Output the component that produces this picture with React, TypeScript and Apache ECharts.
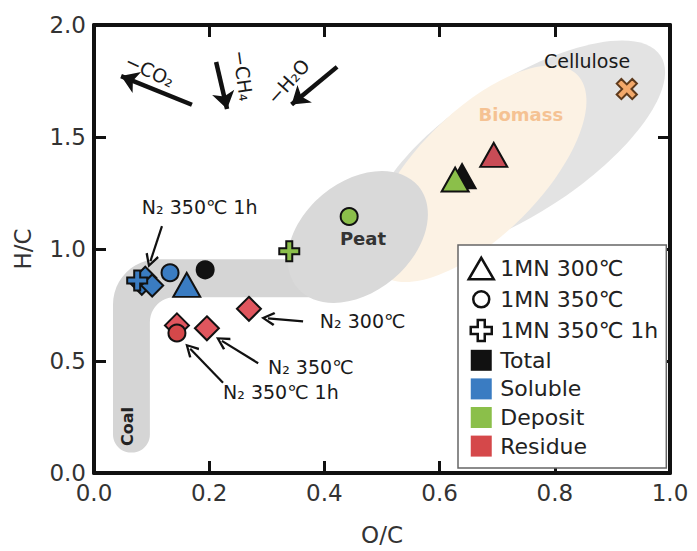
import React, { useEffect, useRef } from "react";
import * as echarts from "echarts";

const FONT = "DejaVu Sans";

// axis ticks
const xTickLabels = ["0.0", "0.2", "0.4", "0.6", "0.8", "1.0"];
const yTickLabels = ["0.0", "0.5", "1.0", "1.5", "2.0"];

// legend entries
const legendShapes = ["1MN 300℃", "1MN 350℃", "1MN 350℃ 1h"];
const legendColors = ["Total", "Soluble", "Deposit", "Residue"];

// data points [O/C, H/C]
const totalTriangle = [[0.639, 1.325]];
const totalCircle = [[0.193, 0.907]];
const solubleTriangle = [[0.161, 0.84]];
const solubleCircle = [[0.132, 0.894]];
const solubleCross = [[0.075, 0.859]];
const depositTriangle = [[0.627, 1.31]];
const depositCircle = [[0.443, 1.145]];
const depositCross = [[0.339, 0.99]];
const residueTriangle = [[0.694, 1.42]];
const residueCircle = [[0.144, 0.625]];
const n2Soluble = [[0.083, 0.845], [0.089, 0.872], [0.101, 0.837]];
const n2Residue = [[0.269, 0.733], [0.196, 0.646], [0.144, 0.659]];
const celluloseRef = [[0.925, 1.714]];

// regions (data coordinates)
const cellulosePos = [0.736, 1.449];
const biomassPos = [0.667, 1.336];
const peatPos = [0.458, 1.054];
const coalLeft = 0.033, coalRight = 0.097, coalBottom = 0.091, coalTop = 0.954, coalInner = 0.785, coalEnd = 0.44;

// arrows [from, to]
const removalArrows = [
  [[0.17, 1.644], [0.047, 1.772]],
  [[0.212, 1.835], [0.231, 1.625]],
  [[0.422, 1.813], [0.343, 1.645]],
];
const removalLabels = ["−CO₂", "−CH₄", "−H₂O"];
const removalLabelPos = [[0.097, 1.796], [0.259, 1.774], [0.337, 1.748]];
const removalLabelRot = [-25, -82, 48];

const n2Arrows = [
  [[0.118, 1.102], [0.098, 0.946]],
  [[0.363, 0.677], [0.302, 0.69]],
  [[0.285, 0.49], [0.222, 0.59]],
  [[0.224, 0.403], [0.167, 0.555]],
];
const n2Labels = ["N₂ 350℃ 1h", "N₂ 300℃", "N₂ 350℃", "N₂ 350℃ 1h"];
const n2LabelPos = [[0.083, 1.189], [0.392, 0.677], [0.302, 0.473], [0.224, 0.36]];

const regionLabels = ["Cellulose", "Biomass", "Peat", "Coal"];
const regionLabelPos = [[0.856, 1.839], [0.741, 1.601], [0.467, 1.046], [0.059, 0.208]];

const BLUE = "#3a7cc2";
const GREEN = "#8bbf4a";
const RED = "#d5484a";
const RED_D = "#e0565e";
const BLACK = "#111";

const CROSS = "path://M7,0 H13 V7 H20 V13 H13 V20 H7 V13 H0 V7 H7 Z";
const ICON_TRI = "path://M0,0 M28,24 M1.5,23 L14,1.5 L26.5,23 Z";
const ICON_CIRC = "path://M0,0 M28,24 M6,12 A8,8 0 1,0 22,12 A8,8 0 1,0 6,12 Z";
const ICON_CROSS = "path://M0,0 M28,24 M10.5,1.5 H17.5 V8.5 H24.5 V15.5 H17.5 V22.5 H10.5 V15.5 H3.5 V8.5 H10.5 Z";
const ICON_SQ = "path://M0,0 M28,24 M3.5,1.5 H24.5 V22.5 H3.5 Z";

function pts(symbol: any, size: any, color: string, data: number[][], name: string, z = 5) {
  return {
    type: "scatter",
    name,
    data,
    symbol,
    symbolSize: size,
    z,
    itemStyle: { color, borderColor: BLACK, borderWidth: 2, opacity: 1 },
  };
}

function renderRegion(params: any, api: any) {
  const i = params.dataIndex;
  const ell = (c: number[], rx: number, ry: number, rot: number, fill: string) => {
    const p = api.coord(c);
    return {
      type: "ellipse",
      x: p[0],
      y: p[1],
      rotation: (rot * Math.PI) / 180,
      shape: { cx: 0, cy: 0, rx, ry },
      style: { fill },
    };
  };
  if (i === 0) return ell(cellulosePos, 170, 66, 33, "#e3e3e3");
  if (i === 1) return ell(biomassPos, 140, 62, 45, "#fcf2e4");
  if (i === 3) return ell(peatPos, 79, 55, 40, "#d9d9d9");
  // coal L-shaped band
  const L = api.coord([coalLeft, 0])[0];
  const R = api.coord([coalRight, 0])[0];
  const E = api.coord([coalEnd, 0])[0];
  const B = api.coord([0, coalBottom])[1];
  const T = api.coord([0, coalTop])[1];
  const H = api.coord([0, coalInner])[1];
  const rb = 18, ro = 45, ri = 25;
  const points: number[][] = [];
  const arc = (cx: number, cy: number, r: number, a0: number, a1: number) => {
    const n = 12;
    for (let k = 0; k <= n; k++) {
      const a = ((a0 + ((a1 - a0) * k) / n) * Math.PI) / 180;
      points.push([cx + r * Math.cos(a), cy + r * Math.sin(a)]);
    }
  };
  arc(L + rb, B - rb, rb, 90, 180);
  arc(L + ro, T + ro, ro, 180, 270);
  points.push([E, T]);
  points.push([E, H]);
  arc(R + ri, H + ri, ri, 270, 180);
  arc(R - rb, B - rb, rb, 0, 90);
  return { type: "polygon", shape: { points }, style: { fill: "#d5d5d5" } };
}

function axisCommon(showLabel: boolean) {
  return {
    type: "value",
    axisLine: { show: true, onZero: false, lineStyle: { color: BLACK, width: 4 } },
    axisTick: { show: true, inside: true, length: 12, lineStyle: { color: BLACK, width: 3 } },
    splitLine: { show: false },
    axisLabel: {
      show: showLabel,
      fontFamily: FONT,
      fontSize: 23,
      color: "#333",
      margin: 8,
      formatter: (v: number) => v.toFixed(1),
    },
  };
}

export default function App() {
  const ref = useRef<HTMLDivElement>(null);
  useEffect(() => {
    const chart = echarts.init(ref.current!, null, { renderer: "svg" });
    const xLab = (v: number) => xTickLabels[Math.round(v / 0.2)] ?? v.toFixed(1);
    const yLab = (v: number) => yTickLabels[Math.round(v / 0.5)] ?? v.toFixed(1);

    const annotData: any[] = [];
    n2Labels.forEach((t, i) =>
      annotData.push({
        value: n2LabelPos[i],
        label: { formatter: t, position: "right", distance: 0, fontSize: 19, color: "#1a1a1a" },
      })
    );
    removalLabels.forEach((t, i) =>
      annotData.push({
        value: removalLabelPos[i],
        label: { formatter: t, position: "inside", rotate: removalLabelRot[i], fontSize: 19, color: "#1a1a1a" },
      })
    );
    const regionStyles = [
      { fontSize: 19, color: "#1a1a1a", fontWeight: "normal", rotate: 0 },
      { fontSize: 18, color: "#f5c293", fontWeight: "bold", rotate: 0 },
      { fontSize: 18, color: "#333", fontWeight: "bold", rotate: 0 },
      { fontSize: 16, color: "#222", fontWeight: "bold", rotate: 90 },
    ];
    regionLabels.forEach((t, i) =>
      annotData.push({
        value: regionLabelPos[i],
        label: { formatter: t, position: "inside", ...regionStyles[i] },
      })
    );

    const shapeStyle = { color: "#fff", borderColor: BLACK, borderWidth: 2.5, opacity: 1 };
    const colorMap: Record<string, string> = { Total: BLACK, Soluble: BLUE, Deposit: GREEN, Residue: RED };
    const shapeIcons = [ICON_TRI, ICON_CIRC, ICON_CROSS];

    chart.setOption({
      animation: false,
      grid: { left: 94, right: 27, top: 25, bottom: 65, containLabel: false },
      xAxis: [
        {
          ...axisCommon(true),
          min: 0, max: 1, interval: 0.2, position: "bottom",
          axisLabel: { ...axisCommon(true).axisLabel, formatter: xLab },
          name: "O/C", nameLocation: "middle", nameGap: 50,
          nameTextStyle: { fontFamily: FONT, fontSize: 23, color: "#333" },
        },
        { ...axisCommon(false), min: 0, max: 1, interval: 0.2, position: "top" },
      ],
      yAxis: [
        {
          ...axisCommon(true),
          min: 0, max: 2, interval: 0.5, position: "left",
          axisLabel: { ...axisCommon(true).axisLabel, formatter: yLab },
          name: "H/C", nameLocation: "middle", nameGap: 60,
          nameTextStyle: { fontFamily: FONT, fontSize: 23, color: "#333" },
        },
        { ...axisCommon(false), min: 0, max: 2, interval: 0.5, position: "right" },
      ],
      legend: {
        orient: "vertical",
        left: 458,
        top: 245,
        itemWidth: 28,
        itemHeight: 24,
        itemGap: 4.6,
        padding: [10, 8, 10, 8],
        backgroundColor: "#fff",
        borderColor: "#666",
        borderWidth: 1.5,
        selectedMode: false,
        textStyle: { fontFamily: FONT, fontSize: 22, color: "#222", width: 156, lineHeight: 24 },
        data: [
          ...legendShapes.map((n, i) => ({ name: n, icon: shapeIcons[i], itemStyle: shapeStyle })),
          ...legendColors.map((n) => ({
            name: n, icon: ICON_SQ, itemStyle: { color: colorMap[n], borderWidth: 0, opacity: 1 },
          })),
        ],
      },
      series: [
        {
          type: "custom",
          name: "regions",
          z: 1,
          silent: true,
          clip: true,
          renderItem: renderRegion,
          data: [cellulosePos, biomassPos, [coalLeft, coalTop], peatPos],
        },
        // legend placeholders
        ...legendShapes.map((n, i) => ({
          type: "scatter", name: n, data: [], symbol: shapeIcons[i], itemStyle: shapeStyle,
        })),
        ...legendColors.map((n) => ({
          type: "scatter", name: n, data: [], symbol: ICON_SQ, itemStyle: { color: colorMap[n], opacity: 1 },
        })),
        {
          type: "lines",
          coordinateSystem: "cartesian2d",
          z: 3,
          symbol: ["none", "arrow"],
          symbolSize: 17,
          lineStyle: { color: BLACK, width: 4.5, opacity: 1 },
          data: removalArrows.map((c) => ({ coords: c })),
        },
        {
          type: "lines",
          coordinateSystem: "cartesian2d",
          z: 3,
          symbol: ["none", "path://M5,0 L10,9 L8.6,10 L5,3.2 L1.4,10 L0,9 Z"],
          symbolSize: 14,
          lineStyle: { color: BLACK, width: 2.2, opacity: 1 },
          data: n2Arrows.map((c) => ({ coords: c })),
        },
        pts("diamond", 24, RED_D, n2Residue, "N2 residue"),
        pts("circle", 17, RED, residueCircle, "res circ"),
        pts("diamond", 22, BLUE, n2Soluble, "N2 soluble"),
        pts(CROSS, 20, BLUE, solubleCross, "sol cross"),
        pts("circle", 17, BLUE, solubleCircle, "sol circ"),
        pts("triangle", [27, 24], BLUE, solubleTriangle, "sol tri"),
        pts("circle", 17, BLACK, totalCircle, "tot circ"),
        pts(CROSS, 20, GREEN, depositCross, "dep cross"),
        pts("circle", 17, GREEN, depositCircle, "dep circ"),
        pts("triangle", [27, 24], BLACK, totalTriangle, "tot tri"),
        pts("triangle", [27, 24], GREEN, depositTriangle, "dep tri", 6),
        pts("triangle", [27, 24], "#c94c56", residueTriangle, "res tri"),
        {
          type: "scatter",
          name: "cellulose",
          data: celluloseRef,
          symbol: CROSS,
          symbolRotate: 45,
          symbolSize: 22,
          z: 5,
          itemStyle: { color: "#f2a86a", borderColor: "#5e3a1c", borderWidth: 2, opacity: 1 },
        },
        {
          type: "scatter",
          name: "annotations",
          z: 7,
          silent: true,
          symbolSize: 0.1,
          itemStyle: { color: "rgba(0,0,0,0)", opacity: 1 },
          label: { show: true, fontFamily: FONT, opacity: 1 },
          data: annotData,
        },
      ],
    });
    return () => chart.dispose();
  }, []);
  return <div ref={ref} style={{ position: "absolute", left: 0, top: 0, width: 697, height: 551 }} />;
}
